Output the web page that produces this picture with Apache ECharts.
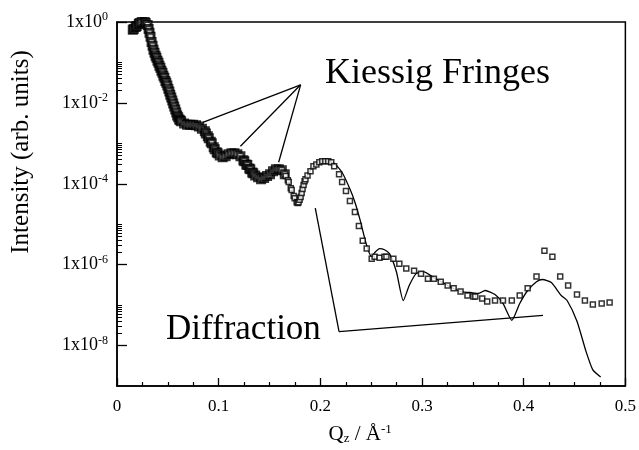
<!DOCTYPE html>
<html>
<head>
<meta charset="utf-8">
<script src="https://cdn.jsdelivr.net/npm/echarts@6/dist/echarts.min.js"></script>
<style>
  html, body { margin: 0; padding: 0; background: #fff; }
  #chart { width: 639px; height: 450px; }
</style>
</head>
<body>
<div id="chart"></div>
<script>
// measured reflectivity, low Q (points so close they merge into a band)
var qDense = [0.0155, 0.0165, 0.0184, 0.0194, 0.0214, 0.0223, 0.0243, 0.0252, 0.0272, 0.0282,
  0.0301, 0.0311, 0.0320, 0.0330, 0.0340, 0.0350, 0.0359, 0.0369, 0.0379, 0.0388,
  0.0398, 0.0408, 0.0417, 0.0427, 0.0437, 0.0447, 0.0456, 0.0466, 0.0476, 0.0485,
  0.0495, 0.0505, 0.0515, 0.0524, 0.0534, 0.0544, 0.0553, 0.0563, 0.0573, 0.0583,
  0.0592, 0.0602, 0.0612, 0.0621, 0.0631, 0.0660, 0.0689, 0.0718, 0.0748, 0.0777,
  0.0806, 0.0835, 0.0864, 0.0874, 0.0893, 0.0903, 0.0922, 0.0932, 0.0951, 0.0961,
  0.0981, 0.0990, 0.1010, 0.1039, 0.1068, 0.1097, 0.1126, 0.1155, 0.1184, 0.1214,
  0.1243, 0.1252, 0.1272, 0.1282, 0.1301, 0.1311, 0.1330, 0.1340, 0.1359, 0.1388,
  0.1417, 0.1447, 0.1476, 0.1505, 0.1534, 0.1563, 0.1592, 0.1621, 0.1650];
var iDense = [0.64, 0.67, 0.75, 0.80, 0.89, 0.95, 1.0, 1.03, 1.0, 0.95,
  0.84, 0.67, 0.54, 0.43, 0.32, 0.257, 0.205, 0.173, 0.146, 0.130,
  0.11, 0.098, 0.083, 0.074, 0.062, 0.056, 0.047, 0.042, 0.035, 0.0316,
  0.027, 0.0225, 0.019, 0.016, 0.0135, 0.0114, 0.0096, 0.0081, 0.0069, 0.0058,
  0.0049, 0.0044, 0.0039, 0.0037, 0.0035, 0.0031, 0.0029, 0.0029, 0.0029, 0.0028,
  0.0026, 0.0023, 0.0020, 0.00176, 0.0015, 0.00133, 0.0011, 0.0010, 8.0e-4, 7.1e-4,
  6.0e-4, 5.7e-4, 5.0e-4, 4.5e-4, 4.8e-4, 5.4e-4, 5.7e-4, 5.7e-4, 5.4e-4, 4.8e-4,
  3.8e-4, 3.6e-4, 3.0e-4, 2.9e-4, 2.4e-4, 2.3e-4, 1.9e-4, 1.83e-4, 1.6e-4, 1.46e-4,
  1.30e-4, 1.38e-4, 1.55e-4, 1.73e-4, 2.05e-4, 2.3e-4, 2.3e-4, 2.17e-4, 1.73e-4];

// measured reflectivity, higher Q (separate open symbols)
var qMeas = [0.1660, 0.1680, 0.1689, 0.1709, 0.1718, 0.1738, 0.1748, 0.1767, 0.1777, 0.1786,
  0.1796, 0.1806, 0.1816, 0.1825, 0.1835, 0.1845, 0.1854, 0.1874, 0.1903, 0.1932,
  0.1961, 0.1990, 0.2019, 0.2049, 0.2078, 0.2107, 0.2136, 0.2184, 0.2214, 0.2252,
  0.2291, 0.2340, 0.2379, 0.2417, 0.2456, 0.2505, 0.2534, 0.2583, 0.2631, 0.2650,
  0.2718, 0.2777, 0.2845, 0.2922, 0.2990, 0.3058, 0.3117, 0.3184, 0.3252, 0.3311,
  0.3379, 0.3447, 0.3505, 0.3524, 0.3592, 0.3641, 0.3718, 0.3796, 0.3883, 0.3961,
  0.4039, 0.4126, 0.4204, 0.4282, 0.4359, 0.4437, 0.4524, 0.4602, 0.4680, 0.4767,
  0.4845];
var iMeas = [1.55e-4, 1.23e-4, 1.10e-4, 7.8e-5, 7.0e-5, 5.0e-5, 4.4e-5, 3.5e-5, 3.35e-5, 3.5e-5,
  4.0e-5, 4.7e-5, 5.9e-5, 7.4e-5, 9.3e-5, 1.16e-4, 1.30e-4, 1.6e-4, 2.05e-4, 2.7e-4,
  3.0e-4, 3.4e-4, 3.6e-4, 3.6e-4, 3.6e-4, 3.4e-4, 2.7e-4, 1.73e-4, 1.1e-4, 6.6e-5,
  3.75e-5, 2.0e-5, 9.1e-6, 3.9e-6, 2.5e-6, 1.4e-6, 1.57e-6, 1.49e-6, 1.57e-6, 1.57e-6,
  1.4e-6, 1.06e-6, 8.0e-7, 7.1e-7, 6.0e-7, 4.5e-7, 4.5e-7, 3.8e-7, 3.05e-7, 2.6e-7,
  2.17e-7, 1.73e-7, 1.64e-7, 1.64e-7, 1.46e-7, 1.23e-7, 1.30e-7, 1.30e-7, 1.30e-7, 1.73e-7,
  2.6e-7, 5.1e-7, 2.2e-6, 1.57e-6, 5.1e-7, 3.05e-7, 1.83e-7, 1.30e-7, 1.04e-7, 1.10e-7,
  1.16e-7];

// model fit (solid line)
var qFit = [0.0155, 0.0243, 0.0301, 0.0340, 0.0417, 0.0515, 0.0592, 0.0660, 0.0777, 0.0893,
  0.0981, 0.1039, 0.1126, 0.1214, 0.1330, 0.1417, 0.1505, 0.1592, 0.1680, 0.1767,
  0.1845, 0.1932, 0.2049, 0.2136, 0.2214, 0.2291, 0.2340, 0.2388, 0.2437, 0.2476,
  0.2505, 0.2534, 0.2583, 0.2631, 0.2680, 0.2748, 0.2816, 0.2874, 0.2942, 0.3010,
  0.3117, 0.3252, 0.3379, 0.3476, 0.3553, 0.3621, 0.3718, 0.3796, 0.3883, 0.3961,
  0.4039, 0.4126, 0.4184, 0.4272, 0.4369, 0.4427, 0.4524, 0.4612, 0.4680, 0.4757];
var iFit = [0.64, 1.06, 0.80, 0.32, 0.083, 0.019, 0.0049, 0.0031, 0.0028, 0.0015,
  6.0e-4, 4.5e-4, 5.7e-4, 4.8e-4, 1.9e-4, 1.3e-4, 1.73e-4, 2.3e-4, 1.23e-4, 3.5e-5,
  1.16e-4, 2.7e-4, 3.6e-4, 3.2e-4, 1.9e-4, 7.4e-5, 3.5e-5, 1.35e-5, 4.4e-6, 2.1e-6,
  1.57e-6, 1.98e-6, 2.5e-6, 2.34e-6, 1.87e-6, 6.7e-7, 1.30e-7, 3.05e-7, 6.0e-7, 6.7e-7,
  4.8e-7, 3.05e-7, 2.17e-7, 2.05e-7, 1.94e-7, 2.3e-7, 1.83e-7, 1.10e-7, 4.2e-8, 1.10e-7,
  2.3e-7, 3.8e-7, 4.3e-7, 3.6e-7, 1.73e-7, 1.30e-7, 4.0e-8, 7.3e-9, 2.5e-9, 1.67e-9];

// annotation pointers
var kiessigApex = [0.1806, 2.8e-2];
var kiessigTips = [[0.0845, 3.3e-3], [0.1214, 8.5e-4], [0.159, 3.4e-4]];
var diffractionPath = [[0.195, 2.5e-5], [0.2184, 2.2e-8], [0.419, 5.6e-8]];

var yMajor = [1, 1e-2, 1e-4, 1e-6, 1e-8];
var yMinor = [];
[1e-1, 1e-3, 1e-5, 1e-7].forEach(function (d) {
  yMinor.push(d);
  for (var k = 9; k >= 2; k--) yMinor.push(k * d / 10);
});

var font = "'Liberation Serif', 'DejaVu Serif', serif";

function zip(a, b) {
  var out = [];
  for (var i = 0; i < a.length; i++) out.push([a[i], b[i]]);
  return out;
}

var pointerLines = [];
kiessigTips.forEach(function (t) {
  pointerLines.push([{ coord: kiessigApex }, { coord: t }]);
});
for (var i = 0; i < diffractionPath.length - 1; i++) {
  pointerLines.push([{ coord: diffractionPath[i] }, { coord: diffractionPath[i + 1] }]);
}

var chart = echarts.init(document.getElementById('chart'));
var option = {
  backgroundColor: '#fff',
  animation: false,
  grid: {
    left: 117, right: 7, top: 22, bottom: 62,
    show: true, borderColor: '#000', borderWidth: 1.5, backgroundColor: 'transparent'
  },
  xAxis: {
    type: 'value',
    min: 0, max: 0.5, interval: 0.1,
    name: '{q|Q}{sub|z}{q| / Å}{sup|-1}',
    nameLocation: 'middle',
    nameGap: 37,
    nameTextStyle: {
      padding: [0, 22, 0, 0],
      rich: {
        q: { fontFamily: font, fontSize: 21, color: '#000' },
        sub: { fontFamily: font, fontSize: 13, color: '#000', padding: [8, 0, 0, 0] },
        sup: { fontFamily: font, fontSize: 13, color: '#000', padding: [0, 0, 10, 0] }
      }
    },
    axisLine: { lineStyle: { color: '#000', width: 1.5 } },
    axisTick: { inside: true, length: 8, lineStyle: { color: '#000', width: 1.3 } },
    minorTick: { show: true, splitNumber: 4, length: 4, lineStyle: { color: '#000', width: 1.2 } },
    splitLine: { show: false },
    axisLabel: {
      margin: 12,
      fontFamily: font, fontSize: 17, color: '#000',
      formatter: function (v) { return v === 0 ? '0' : v.toFixed(1); }
    }
  },
  yAxis: [{
    type: 'log',
    logBase: 10,
    min: 1e-9, max: 1,
    axisLine: { lineStyle: { color: '#000', width: 1.5 } },
    axisTick: { inside: true, length: 10, customValues: yMajor, lineStyle: { color: '#000', width: 1.3 } },
    splitLine: { show: false },
    axisLabel: {
      margin: 9,
      customValues: yMajor,
      formatter: function (v) {
        return '{b|1x10}{s|' + Math.round(Math.log10(v)) + '}';
      },
      rich: {
        b: { fontFamily: font, fontSize: 18, color: '#000' },
        s: { fontFamily: font, fontSize: 12, color: '#000', padding: [0, 0, 10, 0] }
      }
    }
  }, {
    type: 'log',
    logBase: 10,
    min: 1e-9, max: 1,
    position: 'left',
    axisLine: { show: false },
    axisLabel: { show: false },
    splitLine: { show: false },
    axisTick: { inside: true, length: 5, customValues: yMinor, lineStyle: { color: '#000', width: 1 } }
  }],
  graphic: [
    { type: 'text', x: 21, y: 152, rotation: Math.PI / 2,
      style: { text: 'Intensity (arb. units)', align: 'center', verticalAlign: 'middle', font: '25px ' + font, fill: '#000' } },
    { type: 'text', style: { text: 'Kiessig Fringes', x: 325, y: 74, verticalAlign: 'middle', font: '36px ' + font, fill: '#000' } },
    { type: 'text', style: { text: 'Diffraction', x: 166, y: 330, verticalAlign: 'middle', font: '35px ' + font, fill: '#000' } }
  ],
  series: [{
    name: 'fit',
    type: 'line',
    data: zip(qFit, iFit),
    showSymbol: false,
    smooth: 0.2,
    lineStyle: { color: '#000', width: 1.3 },
    z: 2,
    markLine: {
      silent: true,
      symbol: 'none',
      label: { show: false },
      lineStyle: { color: '#000', width: 1.3, type: 'solid' },
      data: pointerLines
    }
  }, {
    name: 'data low Q',
    type: 'scatter',
    data: zip(qDense, iDense),
    symbol: 'rect',
    symbolSize: 7,
    itemStyle: { color: '#fff', borderColor: '#000', borderWidth: 3 },
    z: 3
  }, {
    name: 'data',
    type: 'scatter',
    data: zip(qMeas, iMeas),
    symbol: 'rect',
    symbolSize: 5,
    itemStyle: { color: '#fff', borderColor: '#000', borderWidth: 1.5 },
    z: 3
  }]
};
chart.setOption(option);
</script>
</body>
</html>
